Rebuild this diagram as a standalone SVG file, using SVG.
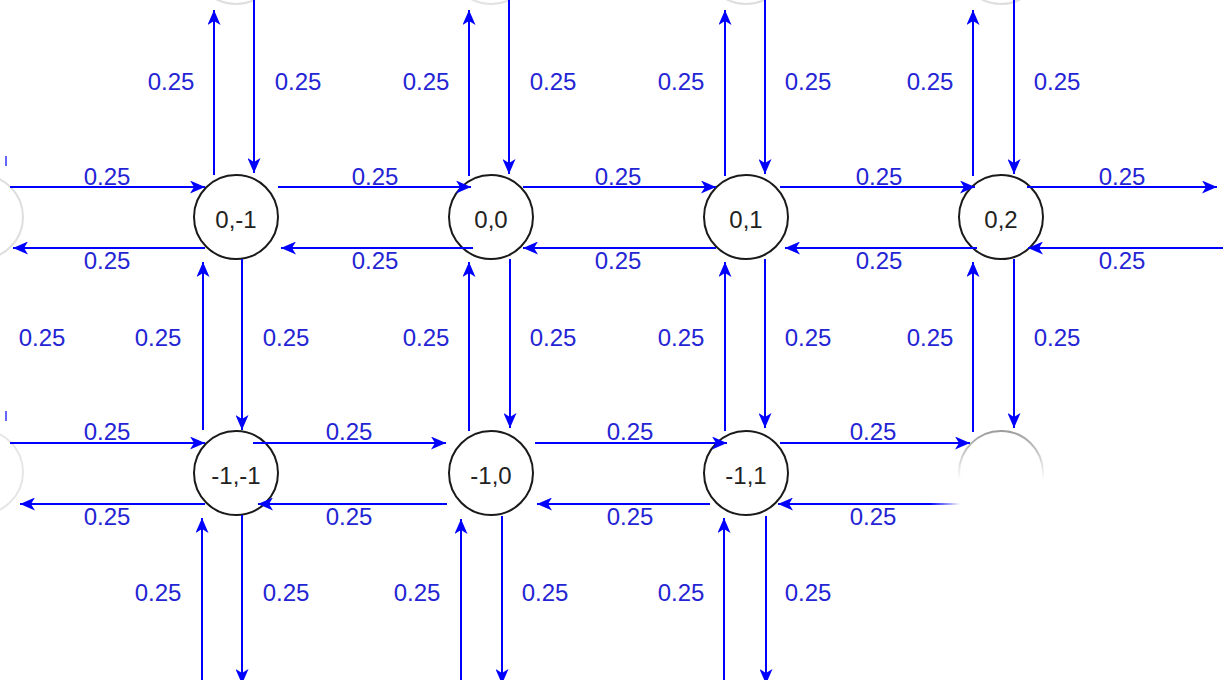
<svg xmlns="http://www.w3.org/2000/svg" width="1223" height="680" viewBox="0 0 1223 680">
  <defs>
    <marker id="ah" viewBox="0 0 15 13" refX="15" refY="6.5" markerWidth="15" markerHeight="13" markerUnits="userSpaceOnUse" orient="auto">
      <path d="M0,0 L15,6.5 L0,13 L4,6.5 Z" fill="#0000ff"/>
    </marker>
    <linearGradient id="fadeQ4" gradientUnits="userSpaceOnUse" x1="960" y1="0" x2="930" y2="0">
      <stop offset="0" stop-color="#0000ff" stop-opacity="0"/>
      <stop offset="1" stop-color="#0000ff" stop-opacity="1"/>
    </linearGradient>
    <linearGradient id="fadeV" gradientUnits="userSpaceOnUse" x1="0" y1="430" x2="0" y2="480">
      <stop offset="0" stop-color="#fff" stop-opacity="1"/>
      <stop offset="1" stop-color="#fff" stop-opacity="0"/>
    </linearGradient>
    <mask id="fadeMask" maskUnits="userSpaceOnUse" x="940" y="420" width="120" height="110">
      <rect x="940" y="420" width="120" height="110" fill="url(#fadeV)"/>
    </mask>
  </defs>
  <style>
    .node circle { fill: #ffffff; stroke: #1a1a1a; stroke-width: 2; }
    .node text { font-family: "Liberation Sans", Arial, sans-serif; font-size: 24px; fill: #222222; text-anchor: middle; }
    .edge { stroke: #0000ff; stroke-width: 2; fill: none; marker-end: url(#ah); }
    .lbl { font-family: "Liberation Sans", Arial, sans-serif; font-size: 24px; fill: #2424d4; text-anchor: middle; }
    .ghost { fill: none; stroke: #c8c8c8; stroke-width: 2; }
  </style>
  <rect width="1223" height="680" fill="#ffffff"/>

  <!-- faded partial elements at the borders -->
  <g id="faded">
    <circle class="ghost" cx="236" cy="-38" r="42" opacity="0.6"/>
    <circle class="ghost" cx="491" cy="-38" r="42" opacity="0.5"/>
    <circle class="ghost" cx="746" cy="-38" r="42" opacity="0.6"/>
    <circle class="ghost" cx="1001" cy="-38" r="42" opacity="0.6"/>
    <circle class="ghost" cx="-19" cy="217" r="42" opacity="0.6"/>
    <circle class="ghost" cx="-19" cy="472" r="42" opacity="0.45"/>
    <line x1="6" y1="156" x2="6" y2="166" stroke="#0000ff" stroke-width="2" opacity="0.6"/>
    <line x1="6" y1="411" x2="6" y2="421" stroke="#0000ff" stroke-width="2" opacity="0.6"/>
    <g id="node-m1-2" mask="url(#fadeMask)">
      <circle cx="1001" cy="473" r="42" fill="none" stroke="#9a9a9a" stroke-width="2"/>
    </g>
  </g>

  <g id="node-0-m1" class="node"><circle cx="236" cy="217" r="42"/><text x="236" y="228">0,-1</text></g>
  <g id="node-0-0" class="node"><circle cx="491" cy="217" r="42"/><text x="491" y="228">0,0</text></g>
  <g id="node-0-1" class="node"><circle cx="746" cy="217" r="42"/><text x="746" y="228">0,1</text></g>
  <g id="node-0-2" class="node"><circle cx="1001" cy="217" r="42"/><text x="1001" y="228">0,2</text></g>
  <g id="node-m1-m1" class="node"><circle cx="236" cy="473" r="42"/><text x="236" y="484">-1,-1</text></g>
  <g id="node-m1-0" class="node"><circle cx="491" cy="473" r="42"/><text x="491" y="484">-1,0</text></g>
  <g id="node-m1-1" class="node"><circle cx="746" cy="473" r="42"/><text x="746" y="484">-1,1</text></g>

  <g id="connectors">
    <!-- row 0 horizontals -->
    <line class="edge" x1="10" y1="187" x2="205" y2="187"/>
    <line class="edge" x1="278" y1="187" x2="471" y2="187"/>
    <line class="edge" x1="523" y1="187" x2="716" y2="187"/>
    <line class="edge" x1="780" y1="187" x2="975" y2="187"/>
    <line class="edge" x1="1027" y1="187" x2="1217" y2="187"/>
    <line class="edge" x1="205" y1="248" x2="13" y2="248"/>
    <line class="edge" x1="473" y1="248" x2="281" y2="248"/>
    <line class="edge" x1="716" y1="248" x2="523" y2="248"/>
    <line class="edge" x1="977" y1="248" x2="785" y2="248"/>
    <line class="edge" x1="1223" y1="248" x2="1028" y2="248"/>
    <!-- row -1 horizontals -->
    <line class="edge" x1="10" y1="443" x2="205" y2="443"/>
    <line class="edge" x1="253" y1="443" x2="446" y2="443"/>
    <line class="edge" x1="535" y1="443" x2="727" y2="443"/>
    <line class="edge" x1="780" y1="443" x2="970" y2="443"/>
    <line class="edge" x1="205" y1="504" x2="20" y2="504"/>
    <line class="edge" x1="447" y1="504" x2="258" y2="504"/>
    <line class="edge" x1="710" y1="504" x2="537" y2="504"/>
    <line class="edge" x1="960" y1="504" x2="778" y2="504" style="stroke:url(#fadeQ4)"/>
    <!-- top verticals -->
    <line class="edge" x1="214" y1="175" x2="214" y2="10"/>
    <line class="edge" x1="254" y1="0" x2="254" y2="173"/>
    <line class="edge" x1="469" y1="176" x2="469" y2="10"/>
    <line class="edge" x1="509" y1="0" x2="509" y2="174"/>
    <line class="edge" x1="725" y1="176" x2="725" y2="10"/>
    <line class="edge" x1="765" y1="0" x2="765" y2="174"/>
    <line class="edge" x1="973" y1="176" x2="973" y2="10"/>
    <line class="edge" x1="1014" y1="0" x2="1014" y2="174"/>
    <!-- middle verticals -->
    <line class="edge" x1="203" y1="430" x2="203" y2="262"/>
    <line class="edge" x1="242" y1="259" x2="242" y2="430"/>
    <line class="edge" x1="469" y1="431" x2="469" y2="262"/>
    <line class="edge" x1="510" y1="259" x2="510" y2="428"/>
    <line class="edge" x1="725" y1="431" x2="725" y2="262"/>
    <line class="edge" x1="765" y1="259" x2="765" y2="428"/>
    <line class="edge" x1="973" y1="432" x2="973" y2="262"/>
    <line class="edge" x1="1014" y1="259" x2="1014" y2="428"/>
    <!-- bottom verticals -->
    <line class="edge" x1="202" y1="680" x2="202" y2="518"/>
    <line class="edge" x1="242" y1="515" x2="242" y2="684"/>
    <line class="edge" x1="461" y1="680" x2="461" y2="519"/>
    <line class="edge" x1="502" y1="516" x2="502" y2="684"/>
    <line class="edge" x1="724" y1="680" x2="724" y2="518"/>
    <line class="edge" x1="766" y1="516" x2="766" y2="684"/>
  </g>

  <g id="edge-labels">
    <text class="lbl" x="171" y="90">0.25</text>
    <text class="lbl" x="298" y="90">0.25</text>
    <text class="lbl" x="426" y="90">0.25</text>
    <text class="lbl" x="553" y="90">0.25</text>
    <text class="lbl" x="681" y="90">0.25</text>
    <text class="lbl" x="808" y="90">0.25</text>
    <text class="lbl" x="930" y="90">0.25</text>
    <text class="lbl" x="1057" y="90">0.25</text>

    <text class="lbl" x="107" y="185">0.25</text>
    <text class="lbl" x="375" y="185">0.25</text>
    <text class="lbl" x="618" y="185">0.25</text>
    <text class="lbl" x="879" y="185">0.25</text>
    <text class="lbl" x="1122" y="185">0.25</text>
    <text class="lbl" x="107" y="269">0.25</text>
    <text class="lbl" x="375" y="269">0.25</text>
    <text class="lbl" x="618" y="269">0.25</text>
    <text class="lbl" x="879" y="269">0.25</text>
    <text class="lbl" x="1122" y="269">0.25</text>

    <text class="lbl" x="42" y="346">0.25</text>
    <text class="lbl" x="158" y="346">0.25</text>
    <text class="lbl" x="286" y="346">0.25</text>
    <text class="lbl" x="426" y="346">0.25</text>
    <text class="lbl" x="553" y="346">0.25</text>
    <text class="lbl" x="681" y="346">0.25</text>
    <text class="lbl" x="808" y="346">0.25</text>
    <text class="lbl" x="930" y="346">0.25</text>
    <text class="lbl" x="1057" y="346">0.25</text>

    <text class="lbl" x="107" y="440">0.25</text>
    <text class="lbl" x="349" y="440">0.25</text>
    <text class="lbl" x="630" y="440">0.25</text>
    <text class="lbl" x="873" y="440">0.25</text>
    <text class="lbl" x="107" y="525">0.25</text>
    <text class="lbl" x="349" y="525">0.25</text>
    <text class="lbl" x="630" y="525">0.25</text>
    <text class="lbl" x="873" y="525">0.25</text>

    <text class="lbl" x="158" y="601">0.25</text>
    <text class="lbl" x="286" y="601">0.25</text>
    <text class="lbl" x="417" y="601">0.25</text>
    <text class="lbl" x="545" y="601">0.25</text>
    <text class="lbl" x="681" y="601">0.25</text>
    <text class="lbl" x="808" y="601">0.25</text>
  </g>
</svg>
